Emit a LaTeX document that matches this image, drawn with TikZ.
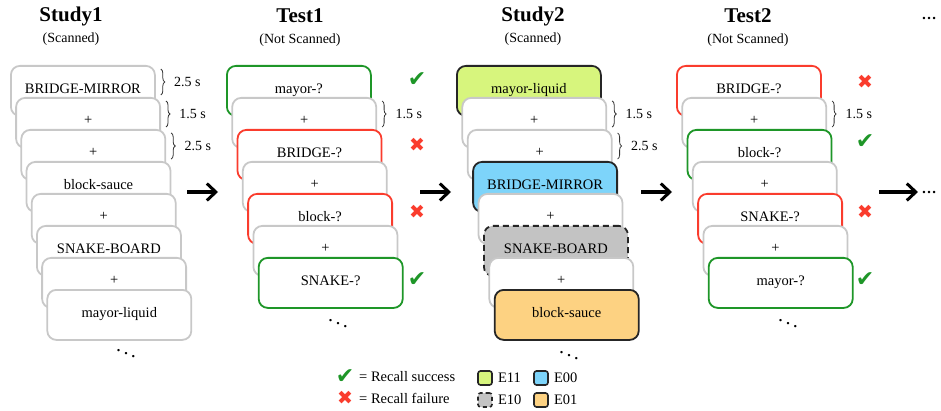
\documentclass[tikz,border=0pt]{standalone}
\usepackage{fontspec}
\setmainfont{Liberation Serif}
\newfontfamily\symfont{DejaVu Sans}
\usetikzlibrary{positioning, calc, arrows.meta, decorations.pathreplacing}

\definecolor{edgegray}{RGB}{200,200,200}
\definecolor{okgreen}{RGB}{30,150,40}
\definecolor{badred}{RGB}{250,60,45}
\definecolor{limefill}{RGB}{215,245,125}
\definecolor{skyfill}{RGB}{125,212,250}
\definecolor{greyfill}{RGB}{195,195,195}
\definecolor{sandfill}{RGB}{253,210,130}

\begin{document}
\begin{tikzpicture}[
    x=1pt, y=-1pt,
    >={Straight Barb[length=9pt, width=17pt, line width=3pt]},
    % Styles
    card/.style={ % one screen of the sequence
        rectangle,
        rounded corners=9pt,
        minimum width=144pt,
        minimum height=50pt,
        inner sep=0pt,
        anchor=north west,
        draw=edgegray,
        line width=1.8pt,
        fill=white,
        text depth=4pt,
        font=\fontsize{14.5}{16}\selectfont
    },
    plain/.style={},
    hit/.style={draw=okgreen},
    miss/.style={draw=badred},
    e11/.style={draw=black!85, fill=limefill},
    e00/.style={draw=black!85, fill=skyfill},
    e10/.style={draw=black!85, fill=greyfill, dashed, dash pattern=on 6pt off 4pt},
    e01/.style={draw=black!85, fill=sandfill},
    title/.style={font=\fontsize{21}{24}\selectfont\bfseries},
    subtitle/.style={font=\fontsize{14}{16}\selectfont},
    timing/.style={ % brace with duration
        decorate,
        decoration={brace, amplitude=4pt},
        line width=0.8pt,
        black!80
    },
    yes/.style={text=okgreen, font=\symfont\fontsize{22}{22}\selectfont},
    no/.style={text=badred, font=\symfont\fontsize{19}{19}\selectfont},
    keytext/.style={anchor=west, inner sep=0pt, font=\fontsize{14.5}{16}\selectfont},
    swatch/.style={
        rectangle,
        rounded corners=2.5pt,
        minimum size=14pt,
        inner sep=0pt,
        line width=1.6pt
    },
    flow/.style={->, line width=3.2pt},
    more/.style={font=\fontsize{15}{16}\selectfont\bfseries},
    vdots/.style={font=\fontsize{20}{20}\selectfont}
]
    \useasboundingbox (0,0) rectangle (941,411);

    % Headings
    \node[title] (h1) at (71,16) {Study1};
    \node[subtitle] (h1s) at (71,39) {(Scanned)};
    \node[title] (h2) at (300,16) {Test1};
    \node[subtitle] (h2s) at (300,40) {(Not Scanned)};
    \node[title] (h3) at (533,16) {Study2};
    \node[subtitle] (h3s) at (533,39) {(Scanned)};
    \node[title] (h4) at (748,16) {Test2};
    \node[subtitle] (h4s) at (748,40) {(Not Scanned)};
    \node[more] (moretop) at (929,19) {\dots};

    % Study 1
    \foreach \txt [count=\i from 0] in {BRIDGE-MIRROR, +, +, block-sauce, +, SNAKE-BOARD, +, mayor-liquid}
        \node[card] (sa\i) at ({10+5.2*\i}, {65+32*\i}) {\txt};

    % Test 1
    \foreach \txt/\kind [count=\i from 0] in {mayor-?/hit, +/plain, BRIDGE-?/miss, +/plain, block-?/miss, +/plain, SNAKE-?/hit}
        \node[card, \kind] (ta\i) at ({226+5.3*\i}, {65+32*\i}) {\txt};

    % Study 2
    \foreach \txt/\kind [count=\i from 0] in {mayor-liquid/e11, +/plain, +/plain, BRIDGE-MIRROR/e00, +/plain, SNAKE-BOARD/e10, +/plain, block-sauce/e01}
        \node[card, \kind] (sb\i) at ({456+5.4*\i}, {65+32*\i}) {\txt};

    % Test 2
    \foreach \txt/\kind [count=\i from 0] in {BRIDGE-?/miss, +/plain, block-?/hit, +/plain, SNAKE-?/miss, +/plain, mayor-?/hit}
        \node[card, \kind] (tb\i) at ({676+5.3*\i}, {65+32*\i}) {\txt};

    % Durations
    \foreach \c/\t in {sa0/2.5, sa1/1.5, sa2/2.5, ta1/1.5, sb1/1.5, sb2/2.5, tb1/1.5}
        \draw[timing] ($(\c.north east)+(5,4)$) -- ($(\c.north east)+(5,30)$)
            node[midway, right=13pt, inner sep=0pt, text=black, font=\fontsize{14}{16}\selectfont] {\t{} s};

    % Continuation dots
    \node[vdots] (sadots) at (126,350) {$\ddots$};
    \node[vdots] (tadots) at (338,320) {$\ddots$};
    \node[vdots] (sbdots) at (569,352) {$\ddots$};
    \node[vdots] (tbdots) at (788,320) {$\ddots$};

    % Recall outcomes
    \node[yes] (ta0m) at (417,80) {✔};
    \node[no]  (ta2m) at (417,145) {✖};
    \node[no]  (ta4m) at (417,212) {✖};
    \node[yes] (ta6m) at (417,280) {✔};
    \node[no]  (tb0m) at (865,82) {✖};
    \node[yes] (tb2m) at (865,142) {✔};
    \node[no]  (tb4m) at (865,212) {✖};
    \node[yes] (tb6m) at (865,280) {✔};

    % Arrows between phases
    \coordinate (p1a) at (187,192);
    \coordinate (p1b) at (218,192);
    \coordinate (p2a) at (420,192);
    \coordinate (p2b) at (451,192);
    \coordinate (p3a) at (641,192);
    \coordinate (p3b) at (672,192);
    \coordinate (p4a) at (879,192);
    \node[more] (moreright) at (929,192) {\dots};
    \draw[flow] (p1a) -- (p1b);
    \draw[flow] (p2a) -- (p2b);
    \draw[flow] (p3a) -- (p3b);
    \draw[flow] (p4a) -- (moreright.west);

    % Legend
    \node[yes] (keyok) at (345,377) {✔};
    \node[keytext] (keyoktxt) at (359,377) {= Recall success};
    \node[no] (keybad) at (345,398) {✖};
    \node[keytext] (keybadtxt) at (359,398) {= Recall failure};
    \node[swatch, e11] (k11) at (485,378) {};
    \node[keytext, right=5pt of k11] (k11txt) {E11};
    \node[swatch, e00] (k00) at (541,378) {};
    \node[keytext, right=5pt of k00] (k00txt) {E00};
    \node[swatch, e10, dash pattern=on 4pt off 3pt] (k10) at (485,400) {};
    \node[keytext, right=5pt of k10] (k10txt) {E10};
    \node[swatch, e01] (k01) at (541,400) {};
    \node[keytext, right=5pt of k01] (k01txt) {E01};

\end{tikzpicture}
\end{document}
